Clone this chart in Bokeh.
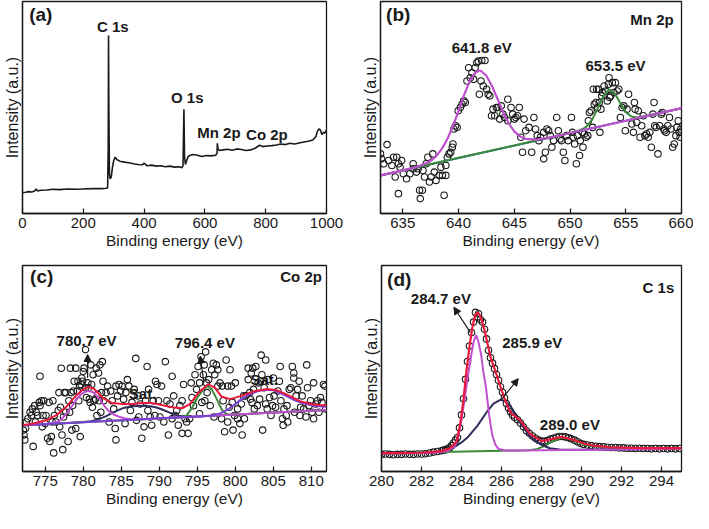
from bokeh.plotting import figure
from bokeh.layouts import column, row
from bokeh.models import Range1d, FixedTicker, Arrow, NormalHead, Label
from bokeh.embed import file_html
from bokeh.resources import INLINE

FONT = "Liberation Sans"

# ---------------- (a) survey ----------------
a_E = [0, 10, 20, 30, 40, 45, 50, 60, 80, 100, 120, 150, 180, 200, 230, 260, 275, 280, 282, 283, 284,
       286, 288, 292, 296, 300, 305, 310, 320, 335, 350, 365, 380, 395, 400, 410, 425, 440, 455, 470,
       485, 500, 515, 525, 528, 530, 531, 533, 536, 540, 545, 550, 560, 575, 590, 605, 620, 635, 640,
       641, 643, 648, 660, 675, 690, 705, 720, 735, 750, 765, 780, 790, 805, 820, 835, 850, 865, 880,
       895, 910, 925, 940, 955, 965, 970, 975, 980, 985, 990, 995, 1000]
a_I = [63, 64, 66, 65, 68, 74, 68, 70, 71, 73, 72, 74, 73, 74, 75, 75, 76, 78, 200, 537, 330,
       120, 105, 110, 140, 160, 170, 163, 158, 155, 153, 150, 148, 147, 152, 144, 146, 143, 144, 141,
       143, 140, 141, 138, 145, 260, 315, 170, 148, 160, 172, 175, 178, 176, 172, 175, 174, 176, 182,
       212, 195, 190, 192, 194, 191, 195, 193, 190, 192, 197, 206, 202, 204, 205, 207, 210, 208, 212,
       210, 213, 216, 218, 222, 232, 248, 255, 252, 238, 245, 243, 252]
a_ticks = [0, 200, 400, 600, 800, 1000]

# ---------------- (b) Mn 2p ----------------
b_points = [(633.00, 180), (633.09, 165), (633.59, 208), (633.29, 150), (633.73, 160), (634.02, 145),
            (634.17, 170), (634.46, 170), (634.61, 150), (634.76, 140), (634.90, 160), (634.32, 110),
            (634.61, 60), (635.05, 120), (635.34, 105), (635.64, 120), (635.93, 135), (635.93, 150),
            (636.22, 125), (636.37, 135), (636.51, 70), (636.57, 45), (636.75, 70), (636.81, 130),
            (636.95, 110), (637.10, 150), (637.25, 170), (637.39, 95), (637.54, 110), (637.69, 180),
            (637.83, 125), (637.98, 100), (638.27, 115), (638.42, 140), (638.56, 115), (638.71, 55),
            (638.86, 115), (638.86, 145), (639.00, 170), (639.15, 180), (639.30, 185), (639.44, 200),
            (639.50, 210), (639.59, 255), (639.73, 265), (639.88, 260), (639.97, 310), (640.17, 320),
            (640.32, 330), (640.47, 340), (640.61, 335), (640.76, 400), (640.91, 440), (641.05, 410),
            (641.20, 425), (641.35, 405), (641.49, 440), (641.64, 455), (641.78, 460), (641.87, 360),
            (642.02, 400), (642.08, 462), (642.22, 385), (642.37, 462), (642.52, 375), (642.66, 360),
            (642.81, 355), (642.96, 295), (643.10, 315), (643.25, 295), (643.40, 320), (643.54, 320),
            (643.69, 285), (643.83, 325), (643.98, 300), (644.13, 290), (644.42, 345), (644.42, 280),
            (644.71, 320), (644.86, 300), (645.01, 285), (645.15, 290), (645.30, 295), (645.45, 320),
            (645.59, 230), (645.74, 185), (645.88, 285), (646.03, 250), (646.32, 260), (646.56, 185),
            (646.76, 290), (646.91, 255), (647.06, 235), (647.20, 220), (647.35, 230), (647.64, 165),
            (647.64, 245), (647.79, 185), (647.93, 255), (648.08, 250), (648.23, 235), (648.37, 200),
            (648.52, 220), (648.81, 290), (648.96, 250), (649.11, 225), (649.25, 220), (649.40, 185),
            (649.54, 160), (649.69, 235), (649.84, 220), (650.13, 290), (650.22, 245), (650.28, 230),
            (650.42, 210), (650.57, 150), (650.66, 235), (650.86, 175), (650.92, 220), (651.10, 245),
            (651.16, 200), (651.30, 240), (651.45, 230), (651.59, 235), (651.65, 280), (651.74, 305),
            (651.89, 310), (652.03, 260), (652.09, 375), (652.18, 330), (652.33, 335), (652.39, 375),
            (652.47, 320), (652.56, 375), (652.62, 335), (652.68, 245), (652.77, 315), (652.85, 355),
            (652.91, 365), (653.06, 385), (653.20, 370), (653.35, 340), (653.44, 390), (653.50, 410),
            (653.56, 350), (653.64, 355), (653.79, 395), (653.94, 365), (654.08, 395), (654.23, 370),
            (654.38, 375), (654.52, 290), (654.67, 320), (654.82, 325), (654.96, 250), (655.11, 315),
            (655.25, 360), (655.55, 270), (655.69, 245), (655.78, 335), (655.84, 315), (655.99, 275),
            (656.13, 310), (656.28, 230), (656.43, 265), (656.57, 295), (656.72, 235), (656.87, 240),
            (657.01, 230), (657.16, 245), (657.30, 200), (657.45, 300), (657.54, 335), (657.60, 265),
            (657.74, 260), (657.89, 180), (658.04, 265), (658.18, 300), (658.27, 305), (658.42, 255),
            (658.48, 250), (658.62, 245), (658.77, 265), (658.92, 290), (659.06, 255), (659.21, 200),
            (659.35, 210), (659.50, 235), (659.59, 260), (659.71, 280), (659.79, 245), (659.88, 230),
            (659.94, 255)]
b_base_E = [633, 660]
b_base_I = [115, 318]
b_fit1_E = [633, 635, 636, 637, 637.5, 638, 638.5, 639, 639.5, 640, 640.5, 641, 641.5, 641.8, 642,
            642.5, 643, 643.5, 644, 644.5, 645, 645.5, 646, 647, 648, 650, 655, 660]
b_fit1_I = [115, 130, 138, 150, 159, 173, 195, 225, 264, 310, 358, 399, 425, 431, 431,
            416, 385, 346, 306, 272, 248, 233, 225, 223, 228, 243, 280, 318]
b_fit2_E = [633, 640, 645, 650, 651, 651.5, 652, 652.5, 653, 653.5, 654, 654.5, 655, 655.5, 656, 657, 660]
b_fit2_I = [115, 168, 205, 243, 252, 263, 284, 319, 355, 375, 363, 334, 306, 293, 290, 296, 318]
b_ticks = [635, 640, 645, 650, 655, 660]

# ---------------- (c) Co 2p ----------------
c_points = [(772.1, 127), (772.2, 112), (772.3, 97), (772.4, 132), (772.5, 152), (772.7, 162), (773.0, 182),
            (773.2, 172), (773.3, 192), (773.4, 77), (773.6, 202), (773.7, 152), (773.8, 182), (774.0, 172),
            (774.2, 212), (774.3, 202), (774.3, 292), (774.5, 217), (774.6, 137), (774.7, 172), (774.8, 217),
            (775.0, 147), (775.1, 172), (775.3, 102), (775.5, 212), (775.6, 92), (775.8, 107), (775.9, 152),
            (776.0, 217), (776.1, 57), (776.2, 172), (776.4, 152), (776.7, 187), (776.8, 242), (776.9, 137),
            (777.0, 197), (777.1, 317), (777.2, 112), (777.3, 67), (777.4, 167), (777.5, 242), (777.7, 182),
            (777.7, 242), (778.0, 92), (778.1, 217), (778.2, 182), (778.3, 317), (778.4, 242), (778.5, 127),
            (778.6, 202), (778.7, 247), (778.8, 277), (779.0, 317), (779.0, 132), (779.2, 247), (779.3, 277),
            (779.4, 217), (779.5, 262), (779.6, 107), (779.7, 267), (779.8, 287), (779.9, 277), (780.0, 307),
            (780.1, 317), (780.3, 257), (780.3, 374), (780.4, 227), (780.6, 272), (780.7, 257), (780.8, 222),
            (780.9, 212), (781.0, 327), (781.1, 267), (781.2, 197), (781.3, 297), (781.4, 217), (781.6, 222),
            (781.7, 317), (781.8, 172), (781.9, 237), (782.0, 302), (782.1, 217), (782.2, 327), (782.3, 182),
            (782.4, 242), (782.5, 337), (782.6, 277), (782.7, 217), (783.0, 242), (783.2, 262), (783.4, 152),
            (783.6, 247), (783.8, 217), (784.0, 192), (784.2, 132), (784.3, 97), (784.3, 262), (784.5, 232),
            (784.7, 267), (784.9, 247), (785.1, 262), (785.3, 222), (785.5, 147), (785.6, 242), (785.8, 282),
            (786.0, 262), (786.2, 187), (786.4, 212), (786.7, 252), (786.9, 347), (787.0, 157), (787.2, 232),
            (787.3, 167), (787.5, 207), (787.7, 102), (788.0, 137), (788.2, 217), (788.4, 322), (788.5, 187),
            (788.6, 252), (788.8, 167), (789.0, 142), (789.2, 217), (789.4, 172), (789.5, 277), (789.7, 267),
            (789.9, 217), (790.1, 167), (790.3, 262), (790.6, 152), (790.8, 337), (791.0, 217), (791.2, 112),
            (791.4, 207), (791.7, 162), (791.7, 292), (791.9, 232), (792.1, 172), (792.3, 187), (792.5, 142),
            (792.7, 202), (793.0, 217), (793.0, 117), (793.2, 267), (793.4, 162), (793.6, 152), (793.8, 117),
            (794.0, 162), (794.2, 272), (794.3, 227), (794.5, 202), (794.7, 297), (794.9, 252), (795.1, 322),
            (795.3, 272), (795.3, 177), (795.5, 352), (795.6, 212), (795.8, 297), (795.9, 327), (796.0, 217),
            (796.1, 367), (796.2, 272), (796.3, 242), (796.5, 282), (796.7, 202), (796.9, 312), (797.1, 332),
            (797.2, 167), (797.3, 297), (797.5, 327), (797.7, 262), (797.7, 312), (798.0, 272), (798.2, 162),
            (798.3, 262), (798.4, 217), (798.6, 122), (798.8, 342), (799.0, 262), (799.0, 152), (799.2, 197),
            (799.3, 312), (799.5, 262), (799.6, 212), (799.7, 127), (799.9, 172), (800.0, 272), (800.3, 162),
            (800.3, 192), (800.6, 147), (800.8, 207), (800.9, 112), (801.1, 232), (801.2, 162), (801.4, 232),
            (801.7, 282), (801.7, 317), (801.9, 242), (802.0, 222), (802.1, 302), (802.2, 212), (802.3, 317),
            (802.4, 252), (802.5, 192), (802.7, 322), (802.9, 202), (803.0, 272), (803.2, 222), (803.3, 277),
            (803.4, 357), (803.5, 297), (803.6, 127), (803.8, 257), (804.0, 207), (804.0, 342), (804.2, 192),
            (804.3, 282), (804.5, 227), (804.7, 172), (804.9, 202), (805.0, 287), (805.1, 232), (805.3, 197),
            (805.6, 247), (805.8, 277), (805.9, 322), (806.0, 217), (806.2, 162), (806.3, 142), (806.4, 192),
            (806.7, 172), (806.8, 202), (806.9, 152), (807.1, 252), (807.3, 257), (807.5, 322), (807.7, 302),
            (807.7, 287), (807.8, 182), (808.0, 232), (808.2, 252), (808.4, 277), (808.5, 172), (808.6, 197),
            (808.8, 232), (809.0, 192), (809.3, 167), (809.4, 327), (809.5, 257), (809.7, 202), (809.9, 217),
            (810.1, 182), (810.3, 272), (810.3, 162), (810.6, 207), (810.8, 217), (811.0, 182), (811.2, 227),
            (811.4, 212), (811.6, 267), (811.8, 262), (811.9, 192)]
c_navy_E = [772, 778, 780, 781, 782, 783, 784.3, 785.3, 786.4, 787.7, 788.8, 789.5, 790.3, 791.2, 792.0,
            792.7, 793.8, 795, 812]
c_navy_I = [142, 149, 151.5, 154, 160, 170, 185, 195, 200, 202, 200, 197, 191, 182, 175, 170, 167, 169, 189]
c_green_E = [772, 792, 793, 793.6, 794.3, 795.1, 795.8, 796.35, 796.9, 797.5, 798.0, 798.4, 799.0, 800, 812]
c_green_I = [142, 164.6, 166, 172, 195, 230, 252, 262, 252, 225, 200, 183, 175, 175, 189]
c_mag_E = [772, 775, 776.4, 777.0, 777.7, 778.4, 779.04, 779.7, 780.3, 780.75, 781.3, 782.1, 782.8, 783.4,
           784.0, 784.7, 785.5, 786.4, 787, 812]
c_mag_I = [142, 145.5, 150, 158, 175, 197, 219, 237, 245, 247, 243, 224, 200, 184, 175, 168, 163, 160, 159.6, 189]
c_violet_E = [772, 780, 790, 795, 797, 798, 799, 800, 800.8, 802, 803, 804, 805, 806, 807.2, 808, 809, 810, 811, 812]
c_violet_I = [142, 151.4, 163, 169, 172, 178, 190, 207, 222, 238, 247, 251, 249, 240, 226, 217, 209, 203, 200, 199]
c_red_E = [772, 773.4, 775.1, 776.4, 777.7, 779.0, 780.1, 780.8, 781.4, 782.5, 783.8, 785.1, 786.4, 787.7,
           789.0, 790.3, 791.7, 793.0, 794.0, 795.1, 796.4, 797.3, 798.2, 799.3, 800.8, 802.5, 804.2, 805.5,
           806.8, 808.5, 810, 811, 812]
c_red_I = [142, 147, 157, 172, 197, 232, 254, 259, 254, 227, 210, 207, 207, 210, 210, 204, 197, 194, 207,
           240, 268, 257, 230, 222, 232, 246, 253, 249, 236, 216, 207, 204, 203]
c_ticks = [775, 780, 785, 790, 795, 800, 805, 810]

# ---------------- (d) C 1s ----------------
d_points = [(280.0, 53), (280.2, 54), (280.4, 53), (280.6, 52), (280.8, 53), (281.0, 53), (281.2, 54),
            (281.4, 53), (281.6, 53), (281.8, 54), (282.0, 54), (282.2, 55), (282.4, 57), (282.6, 60),
            (282.8, 62), (283.0, 64), (283.1, 66), (283.2, 67), (283.3, 70), (283.4, 73), (283.5, 80),
            (283.6, 88), (283.7, 97), (283.8, 105), (283.9, 135), (284.0, 175), (284.1, 225), (284.2, 285),
            (284.3, 340), (284.4, 388), (284.5, 430), (284.6, 462), (284.7, 492), (284.8, 478), (284.85, 488),
            (284.95, 470), (285.05, 462), (285.15, 440), (285.25, 410), (285.35, 375), (285.45, 352),
            (285.55, 335), (285.65, 318), (285.75, 300), (285.85, 282), (285.95, 262), (286.05, 245),
            (286.15, 228), (286.25, 210), (286.35, 196), (286.45, 185), (286.55, 175), (286.65, 168),
            (286.8, 160), (286.95, 150), (287.1, 138), (287.25, 126), (287.4, 118), (287.55, 110),
            (287.7, 103), (287.85, 97), (288.0, 94), (288.15, 93), (288.3, 96), (288.45, 100), (288.6, 103),
            (288.75, 106), (288.9, 108), (289.05, 108), (289.2, 107), (289.35, 104), (289.5, 101),
            (289.65, 97), (289.8, 92), (289.95, 87), (290.1, 84), (290.3, 82), (290.5, 80), (290.7, 78),
            (290.9, 77), (291.1, 76), (291.3, 75), (291.5, 74), (291.7, 74), (291.9, 73), (292.1, 73),
            (292.3, 72), (292.5, 72), (292.7, 71), (292.9, 72), (293.1, 71), (293.3, 71), (293.5, 70),
            (293.7, 71), (293.9, 70), (294.1, 71), (294.3, 70), (294.5, 71), (294.7, 70), (294.9, 71)]
d_green_E = [280, 283, 286, 287.4, 287.8, 288.2, 288.5, 289.0, 289.6, 290.2, 291.0, 292.2, 295]
d_green_I = [55, 60, 64, 66, 70, 80, 92, 105, 98, 82, 75, 72, 70]
d_navy_E = [280, 282.5, 283.0, 283.67, 284.0, 284.33, 284.8, 285.3, 285.6, 285.96, 286.2, 286.45, 286.94,
            287.43, 287.92, 288.41, 288.9, 290, 295]
d_navy_I = [55, 58, 63, 77, 90, 107, 142, 187, 210, 222, 217, 202, 150, 108, 85, 72, 68, 67, 70]
d_mag_E = [280, 282.5, 283.0, 283.35, 283.67, 283.84, 284.0, 284.17, 284.33, 284.49, 284.6, 284.73, 284.85,
           284.98, 285.1, 285.22, 285.38, 285.54, 285.7, 285.85, 286.2, 287, 295]
d_mag_I = [55, 58, 60, 64, 78, 108, 160, 230, 300, 360, 400, 422, 400, 362, 305, 262, 175, 112, 82, 70, 65, 65, 70]
d_red_E = [280, 282, 283, 283.43, 283.75, 283.92, 284.08, 284.25, 284.41, 284.57, 284.7, 284.78, 284.9, 285.0,
           285.14, 285.3, 285.46, 285.71, 285.95, 286.2, 286.45, 286.94, 287.43, 288.0, 288.5, 289.0, 289.6,
           290.2, 290.6, 291.4, 293, 295]
d_red_I = [57, 58, 63, 72, 92, 142, 212, 312, 392, 455, 485, 492, 485, 470, 440, 395, 352, 307, 262, 217,
           182, 158, 116, 94, 100, 107, 98, 85, 80, 75, 72, 72]
d_ticks = [280, 282, 284, 286, 288, 290, 292, 294]

# ---------------- styling ----------------
MAG = "#bf4fcf"
RED = "#e8193c"
NAVY = "#2e2d5c"
GREEN = "#3a8a3a"
VIOLET = "#7b3fd6"
BLUE = "#2f55b0"
INK = "#1a1a1a"


def make_fig(w, h, left, right, top, bottom, xr, yr, ticks):
    p = figure(width=w, height=h, x_range=Range1d(*xr), y_range=Range1d(*yr),
               output_backend="svg", toolbar_location=None,
               min_border_left=left, min_border_right=right,
               min_border_top=top, min_border_bottom=bottom)
    p.grid.visible = False
    p.outline_line_color = INK
    p.outline_line_width = 1.3
    p.outline_line_alpha = 1.0
    p.background_fill_color = "white"
    p.border_fill_color = "white"
    xa = p.xaxis[0]
    xa.ticker = FixedTicker(ticks=ticks)
    xa.major_tick_in = 5
    xa.major_tick_out = 0
    xa.major_tick_line_color = INK
    xa.major_tick_line_width = 1.2
    xa.minor_tick_line_color = None
    xa.axis_line_color = INK
    xa.axis_line_width = 1.3
    xa.major_label_text_font = FONT
    xa.major_label_text_font_size = "15px"
    xa.major_label_text_color = INK
    xa.major_label_standoff = 4
    xa.axis_label = "Binding energy (eV)"
    xa.axis_label_text_font = FONT
    xa.axis_label_text_font_size = "15.5px"
    xa.axis_label_text_font_style = "normal"
    xa.axis_label_text_color = INK
    xa.axis_label_standoff = 1
    ya = p.yaxis[0]
    ya.ticker = FixedTicker(ticks=[])
    ya.major_tick_line_color = None
    ya.minor_tick_line_color = None
    ya.major_label_text_font_size = "0px"
    ya.axis_line_color = INK
    ya.axis_line_width = 1.3
    ya.axis_label = "Intensity (a.u.)"
    ya.axis_label_text_font = FONT
    ya.axis_label_text_font_size = "16px"
    ya.axis_label_text_font_style = "normal"
    ya.axis_label_text_color = INK
    ya.axis_label_standoff = 2
    return p


def label(p, x, y, text, align="center", size="15px"):
    p.add_layout(Label(x=x, y=y, text=text, text_align=align, text_baseline="middle",
                       text_font=FONT, text_font_size=size, text_font_style="bold",
                       text_color=INK))


def arrow(p, x0, y0, x1, y1):
    p.add_layout(Arrow(end=NormalHead(size=7, fill_color=INK, line_color=INK, line_width=1),
                       x_start=x0, y_start=y0, x_end=x1, y_end=y1,
                       line_color=INK, line_width=1.2))


def scatter_pts(p, pts):
    xs = [q[0] for q in pts]
    ys = [q[1] for q in pts]
    p.scatter(xs, ys, marker="circle", size=6.5, fill_color=None, line_color=INK, line_width=1.1)


# (a)
pa = make_fig(348, 255, 22, 22, 1, 42, (0, 1000), (0, 640), a_ticks)
pa.line(a_E, a_I, line_color=INK, line_width=1.6)
label(pa, 22, 600, "(a)", align="left", size="19px")
label(pa, 297, 565, "C 1s")
label(pa, 542, 350, "O 1s")
label(pa, 646, 245, "Mn 2p")
label(pa, 804, 240, "Co 2p")

# (b)
pb = make_fig(345, 255, 32, 12, 1, 42, (633, 660), (0, 640), b_ticks)
scatter_pts(pb, b_points)
pb.line(b_base_E, b_base_I, line_color=BLUE, line_width=2)
pb.line(b_fit2_E, b_fit2_I, line_color=GREEN, line_width=2)
pb.line(b_fit1_E, b_fit1_I, line_color=MAG, line_width=2.2)
label(pb, 633.5, 600, "(b)", align="left", size="19px")
label(pb, 659.3, 585, "Mn 2p", align="right")
label(pb, 642.08, 500, "641.8 eV")
label(pb, 654.08, 447, "653.5 eV")

# (c)
pc = make_fig(348, 258, 22, 22, 10, 42, (772, 812), (0, 632), c_ticks)
scatter_pts(pc, c_points)
pc.line(c_navy_E, c_navy_I, line_color=NAVY, line_width=2)
pc.line(c_green_E, c_green_I, line_color=GREEN, line_width=2)
pc.line(c_mag_E, c_mag_I, line_color=MAG, line_width=2)
pc.line(c_violet_E, c_violet_I, line_color=VIOLET, line_width=2)
pc.line(c_red_E, c_red_I, line_color=RED, line_width=2)
label(pc, 773.0, 597, "(c)", align="left", size="19px")
label(pc, 811.4, 597, "Co 2p", align="right")
label(pc, 780.43, 402, "780.7 eV")
label(pc, 796.0, 397, "796.4 eV")
label(pc, 787.8, 240, "Sat.")
label(pc, 803.8, 282, "Sat.")
arrow(pc, 780.57, 287, 780.57, 359)
arrow(pc, 795.87, 272, 795.39, 354)

# (d)
pd = make_fig(345, 258, 33, 12, 10, 42, (280, 295), (0, 637), d_ticks)
scatter_pts(pd, d_points)
pd.line(d_green_E, d_green_I, line_color=GREEN, line_width=2)
pd.line(d_navy_E, d_navy_I, line_color=NAVY, line_width=2)
pd.line(d_mag_E, d_mag_I, line_color=MAG, line_width=2)
pd.line(d_red_E, d_red_I, line_color=RED, line_width=2.2)
label(pd, 280.28, 595, "(d)", align="left", size="19px")
label(pd, 294.64, 570, "C 1s", align="right")
label(pd, 282.97, 535, "284.7 eV")
label(pd, 287.54, 400, "285.9 eV")
label(pd, 289.42, 145, "289.0 eV")
arrow(pd, 284.44, 430, 283.62, 508)
arrow(pd, 285.96, 220, 286.84, 287)

layout = column(row(pa, pb), row(pc, pd))
open("out.html", "w").write(file_html(layout, INLINE))
